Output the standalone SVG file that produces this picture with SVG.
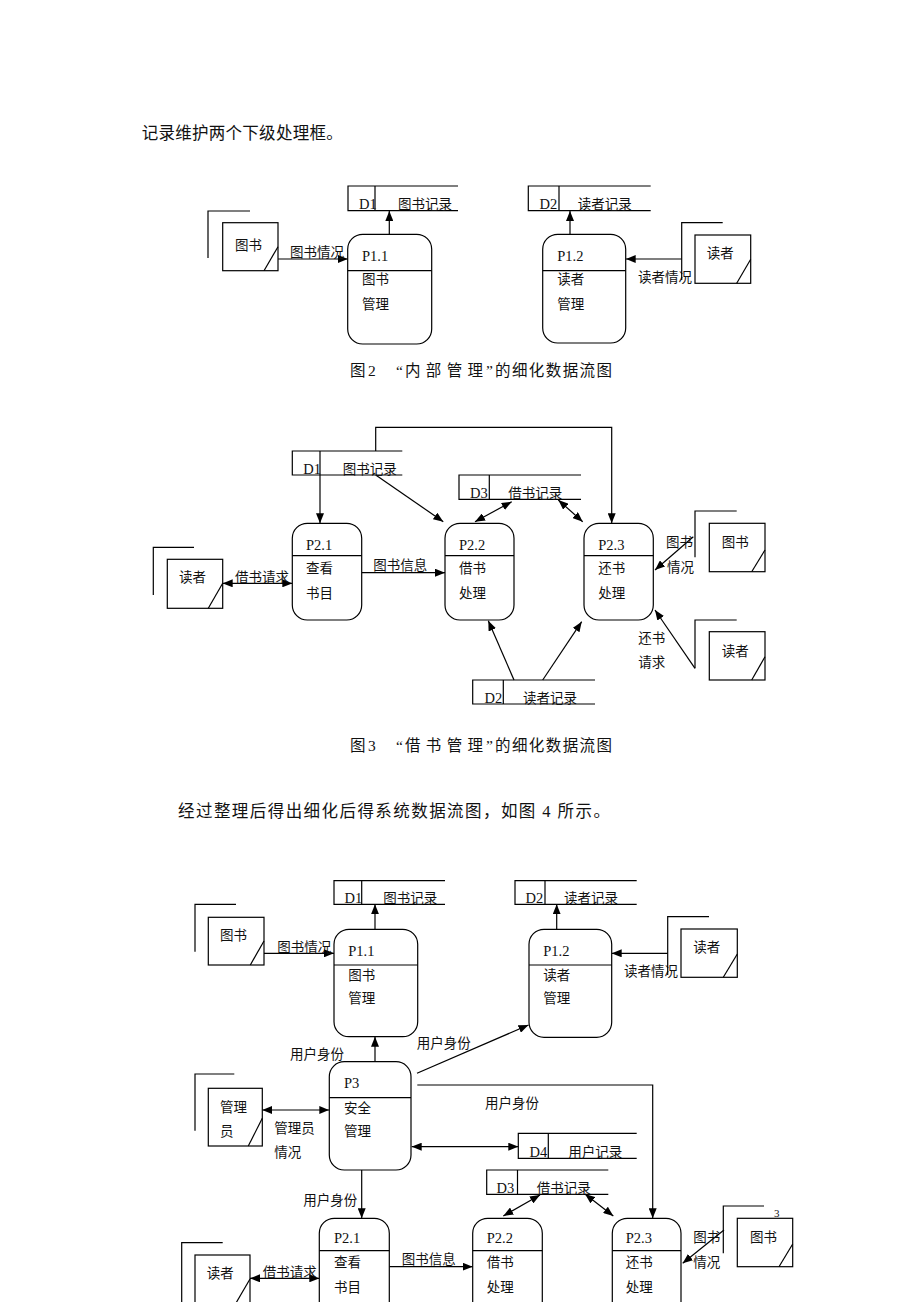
<svg xmlns="http://www.w3.org/2000/svg" width="920" height="1302" viewBox="0 0 920 1302">
<defs>
<marker id="arr" viewBox="0 0 10 8" markerWidth="10" markerHeight="8" refX="10" refY="4" orient="auto-start-reverse" markerUnits="userSpaceOnUse"><path d="M0,0 L10,4 L0,8 z" fill="#000"/></marker>
<style>
.ln{stroke:#000;stroke-width:1.2;fill:none}
.bx{stroke:#000;stroke-width:1.2;fill:#fff}
.fl{stroke:#000;stroke-width:1.2;fill:none;marker-end:url(#arr)}
.fl2{stroke:#000;stroke-width:1.2;fill:none;marker-end:url(#arr);marker-start:url(#arr)}
text{font-family:"Liberation Serif","Noto Sans CJK SC",serif;font-size:13.5px;fill:#111}
.l{font-size:14.5px}
.big{font-size:16.5px}
.cap{font-size:15.5px}
</style>
</defs>
<rect width="920" height="1302" fill="#fff"/>

<text class="big" x="141.7" y="139" textLength="201">记录维护两个下级处理框。</text>

<!-- ============ Figure 2 ============ -->
<g id="f2-connectors">
<line class="fl" x1="278" y1="259" x2="347.7" y2="259"/>
<line class="fl" x1="389.3" y1="234.3" x2="389.3" y2="211"/>
<line class="fl" x1="570" y1="234.3" x2="570" y2="211"/>
<line class="fl" x1="681.7" y1="259" x2="625.7" y2="259"/>
<text x="290" y="257">图书情况</text>
<text x="638" y="281.7">读者情况</text>
</g>
<g id="f2-ent-book">
<path class="ln" d="M250,211 H208 V258"/>
<rect class="bx" x="222.7" y="222.7" width="55.3" height="48"/>
<path class="ln" d="M264,270.7 L278,246.7"/>
<text x="235" y="250">图书</text>
</g>
<g id="f2-ent-reader">
<path class="ln" d="M722.7,222.7 H681.7 V280"/>
<rect class="bx" x="695" y="235" width="55.7" height="48.3"/>
<path class="ln" d="M736.7,283.3 L750.7,259.3"/>
<text x="706.7" y="258">读者</text>
</g>
<g id="f2-D1">
<path class="ln" d="M458,186 H348 V210.7 H458 M375,186 V210.7"/>
<text class="l" x="359" y="209">D1</text><text x="398" y="209">图书记录</text>
</g>
<g id="f2-D2">
<path class="ln" d="M650.7,186 H528.3 V210.7 H650.7 M559,186 V210.7"/>
<text class="l" x="539.5" y="209">D2</text><text x="577.7" y="209">读者记录</text>
</g>
<g id="f2-P1.1">
<rect class="bx" x="347.7" y="234.3" width="84" height="109.7" rx="15"/>
<line class="ln" x1="347.7" y1="270.7" x2="431.7" y2="270.7"/>
<text class="l" x="362" y="261">P1.1</text><text x="362" y="284">图书</text><text x="362" y="309">管理</text>
</g>
<g id="f2-P1.2">
<rect class="bx" x="542.7" y="234.3" width="83" height="108.7" rx="15"/>
<line class="ln" x1="542.7" y1="270.7" x2="625.7" y2="270.7"/>
<text class="l" x="557.3" y="261">P1.2</text><text x="557.3" y="284">读者</text><text x="557.3" y="309">管理</text>
</g>
<g id="f2-caption">
<text class="cap" x="350" y="376">图</text>
<text class="cap" x="368" y="376">2</text>
<text class="cap" x="396" y="376">“</text>
<text class="cap" x="405" y="376" textLength="78">内部管理</text>
<text class="cap" x="486" y="376">”</text>
<text class="cap" x="495" y="376" textLength="117">的细化数据流图</text>
</g>

<!-- ============ Figure 3 ============ -->
<g id="f3-connectors">
<polyline class="fl" points="375.7,451 375.7,427.3 611.7,427.3 611.7,523.3"/>
<line class="fl" x1="320" y1="451" x2="320" y2="523.3"/>
<line class="fl" x1="375.7" y1="475" x2="443.3" y2="521.7"/>
<line class="fl2" x1="511.7" y1="501.7" x2="475" y2="521.7"/>
<line class="fl2" x1="558.3" y1="500" x2="582.7" y2="521.7"/>
<line class="fl2" x1="222.7" y1="583.3" x2="292.3" y2="583.3"/>
<line class="fl" x1="361.7" y1="572.7" x2="445" y2="572.7"/>
<line class="fl" x1="693.3" y1="536.7" x2="655" y2="570"/>
<line class="fl" x1="695" y1="668.3" x2="655" y2="610"/>
<line class="fl" x1="514" y1="680" x2="488.3" y2="620.7"/>
<line class="fl" x1="542.7" y1="680" x2="581.7" y2="621.7"/>
<text x="235" y="581.7">借书请求</text>
<text x="373.3" y="570">图书信息</text>
<text x="666" y="546.7">图书</text><text x="667" y="571.7">情况</text>
<text x="638.3" y="643.3">还书</text><text x="638.3" y="666.7">请求</text>
</g>
<g id="f3-D1">
<path class="ln" d="M402.3,451 H292.3 V475 H402.3"/>
<text class="l" x="303.3" y="473.5">D1</text><text x="342.7" y="473.5">图书记录</text>
</g>
<g id="f3-D3">
<path class="ln" d="M581,475 H459 V499.3 H581 M489.3,475 V499.3"/>
<text class="l" x="470" y="498">D3</text><text x="508.3" y="498">借书记录</text>
</g>
<g id="f3-D2">
<path class="ln" d="M595,680 H472.7 V704 H595 M503.3,680 V704"/>
<text class="l" x="484.5" y="702.5">D2</text><text x="523" y="702.5">读者记录</text>
</g>
<g id="f3-ent-reader-l">
<path class="ln" d="M194,547.3 H153.3 V595"/>
<rect class="bx" x="167.3" y="559.3" width="55.4" height="49"/>
<path class="ln" d="M208.3,608.3 L222.7,583.3"/>
<text x="179" y="582">读者</text>
</g>
<g id="f3-ent-book-r">
<path class="ln" d="M736.7,511 H695 V557.3"/>
<rect class="bx" x="709.3" y="523.3" width="55.7" height="48.4"/>
<path class="ln" d="M751.7,571.7 L765,550"/>
<text x="721.7" y="546.7">图书</text>
</g>
<g id="f3-ent-reader-r">
<path class="ln" d="M736.7,620 H695 V668.3"/>
<rect class="bx" x="709.3" y="631.7" width="55.7" height="48.3"/>
<path class="ln" d="M751.7,680 L765,656.7"/>
<text x="721.7" y="655.7">读者</text>
</g>
<g id="f3-P2.1">
<rect class="bx" x="292.3" y="523.3" width="69.4" height="96.7" rx="15"/>
<line class="ln" x1="292.3" y1="555.7" x2="361.7" y2="555.7"/>
<text class="l" x="306" y="549.5">P2.1</text><text x="306" y="573">查看</text><text x="306" y="597.7">书目</text>
</g>
<g id="f3-P2.2">
<rect class="bx" x="445" y="523.3" width="69" height="96.7" rx="15"/>
<line class="ln" x1="445" y1="555.7" x2="514" y2="555.7"/>
<text class="l" x="459" y="549.5">P2.2</text><text x="459" y="573">借书</text><text x="459" y="597.7">处理</text>
</g>
<g id="f3-P2.3">
<rect class="bx" x="584" y="523.3" width="69.3" height="96.7" rx="15"/>
<line class="ln" x1="584" y1="555.7" x2="653.3" y2="555.7"/>
<text class="l" x="598.3" y="549.5">P2.3</text><text x="598.3" y="573">还书</text><text x="598.3" y="597.7">处理</text>
</g>
<g id="f3-caption">
<text class="cap" x="350" y="751">图</text>
<text class="cap" x="368" y="751">3</text>
<text class="cap" x="396" y="751">“</text>
<text class="cap" x="405" y="751" textLength="78">借书管理</text>
<text class="cap" x="486" y="751">”</text>
<text class="cap" x="495" y="751" textLength="117">的细化数据流图</text>
</g>

<text class="big" x="178" y="817" textLength="432">经过整理后得出细化后得系统数据流图，如图 4 所示。</text>

<!-- ============ Figure 4 ============ -->
<g id="f4-connectors">
<line class="fl" x1="264" y1="953.3" x2="334" y2="953.3"/>
<line class="fl" x1="375" y1="929.3" x2="375" y2="904.3"/>
<line class="fl" x1="556.7" y1="929.3" x2="556.7" y2="904.3"/>
<line class="fl" x1="667.7" y1="953.3" x2="611.7" y2="953.3"/>
<line class="fl" x1="375" y1="1061.7" x2="375" y2="1036.7"/>
<line class="fl" x1="417" y1="1073.3" x2="528.5" y2="1025"/>
<polyline class="fl" points="417.3,1085 652.7,1085 652.7,1218.3"/>
<line class="fl2" x1="262.3" y1="1110" x2="329.3" y2="1110"/>
<line class="fl2" x1="411.7" y1="1146.7" x2="518.3" y2="1146.7"/>
<line class="fl" x1="361.7" y1="1170" x2="361.7" y2="1218.3"/>
<line class="fl2" x1="540" y1="1195" x2="503.3" y2="1216"/>
<line class="fl2" x1="585" y1="1194" x2="613.3" y2="1216"/>
<line class="fl2" x1="250" y1="1278.3" x2="319.3" y2="1278.3"/>
<line class="fl" x1="389.3" y1="1266.7" x2="472.7" y2="1266.7"/>
<line class="fl" x1="724" y1="1230" x2="682.7" y2="1263.3"/>
<text x="277.3" y="951.7">图书情况</text>
<text x="624" y="975.7">读者情况</text>
<text x="290" y="1059">用户身份</text>
<text x="416.7" y="1048">用户身份</text>
<text x="485" y="1108">用户身份</text>
<text x="303.3" y="1205">用户身份</text>
<text x="274.3" y="1133">管理员</text><text x="274.3" y="1157">情况</text>
<text x="262.7" y="1276.7">借书请求</text>
<text x="401.7" y="1264.3">图书信息</text>
<text x="693.3" y="1242.3">图书</text><text x="693.3" y="1266.7">情况</text>
</g>
<g id="f4-D1">
<path class="ln" d="M445,880.7 H334 V904.3 H445 M361.7,880.7 V904.3"/>
<text class="l" x="344.5" y="903">D1</text><text x="383.3" y="903">图书记录</text>
</g>
<g id="f4-D2">
<path class="ln" d="M636.7,880.7 H515 V904.3 H636.7 M545,880.7 V904.3"/>
<text class="l" x="525.5" y="903">D2</text><text x="564" y="903">读者记录</text>
</g>
<g id="f4-D4">
<path class="ln" d="M636.7,1133.3 H518.3 V1158.3 H636.7 M548.3,1133.3 V1158.3"/>
<text class="l" x="529.5" y="1157">D4</text><text x="568.3" y="1157">用户记录</text>
</g>
<g id="f4-D3">
<path class="ln" d="M608.3,1170 H486.7 V1194.3 H608.3 M517.5,1170 V1194.3"/>
<text class="l" x="496.5" y="1193">D3</text><text x="536.7" y="1193">借书记录</text>
</g>
<g id="f4-ent-book">
<path class="ln" d="M236,904.3 H195 V951.7"/>
<rect class="bx" x="208.3" y="917.3" width="55.7" height="47.7"/>
<path class="ln" d="M250.3,965 L264,941"/>
<text x="220" y="940">图书</text>
</g>
<g id="f4-ent-reader">
<path class="ln" d="M709,916.7 H667.7 V975"/>
<rect class="bx" x="681" y="929" width="56.3" height="48.3"/>
<path class="ln" d="M723.3,977.3 L737.3,954"/>
<text x="693.3" y="952">读者</text>
</g>
<g id="f4-ent-admin">
<path class="ln" d="M234.3,1074 H195 V1130.7"/>
<rect class="bx" x="208.3" y="1088.3" width="54" height="57.7"/>
<path class="ln" d="M248.3,1146 L262.3,1118.3"/>
<text x="220" y="1112">管理</text><text x="220" y="1136">员</text>
</g>
<g id="f4-ent-reader-b">
<path class="ln" d="M222.7,1242.7 H181.7 V1310"/>
<rect class="bx" x="195" y="1255" width="55" height="48"/>
<path class="ln" d="M236,1303 L250,1279"/>
<text x="206.7" y="1277.7">读者</text>
</g>
<text x="774" y="1217" style="font-size:11px">3</text>
<g id="f4-ent-book-r">
<path class="ln" d="M764,1206 H723.3 V1253.3"/>
<rect class="bx" x="737.3" y="1218.3" width="55.4" height="48.4"/>
<path class="ln" d="M779,1266.7 L792.7,1244"/>
<text x="750" y="1242">图书</text>
</g>
<g id="f4-P1.1">
<rect class="bx" x="334" y="929.3" width="83.7" height="107.4" rx="15"/>
<line class="ln" x1="334" y1="965" x2="417.7" y2="965"/>
<text class="l" x="348.3" y="955.5">P1.1</text><text x="348.3" y="980">图书</text><text x="348.3" y="1003.3">管理</text>
</g>
<g id="f4-P1.2">
<rect class="bx" x="529" y="929.3" width="82.7" height="108" rx="15"/>
<line class="ln" x1="529" y1="965" x2="611.7" y2="965"/>
<text class="l" x="543.3" y="955.5">P1.2</text><text x="543.3" y="980">读者</text><text x="543.3" y="1003.3">管理</text>
</g>
<g id="f4-P3">
<rect class="bx" x="329.3" y="1061.7" width="81.7" height="108.3" rx="15"/>
<line class="ln" x1="329.3" y1="1097.7" x2="411" y2="1097.7"/>
<text class="l" x="344" y="1088">P3</text><text x="344" y="1112.7">安全</text><text x="344" y="1135.7">管理</text>
</g>
<g id="f4-P2.1">
<rect class="bx" x="319.3" y="1218.3" width="70" height="110" rx="15"/>
<line class="ln" x1="319.3" y1="1250.7" x2="389.3" y2="1250.7"/>
<text class="l" x="334" y="1242.8">P2.1</text><text x="334" y="1266.7">查看</text><text x="334" y="1291.7">书目</text>
</g>
<g id="f4-P2.2">
<rect class="bx" x="472.7" y="1218.3" width="69.6" height="110" rx="15"/>
<line class="ln" x1="472.7" y1="1250.7" x2="542.3" y2="1250.7"/>
<text class="l" x="486.7" y="1242.8">P2.2</text><text x="486.7" y="1266.7">借书</text><text x="486.7" y="1291.7">处理</text>
</g>
<g id="f4-P2.3">
<rect class="bx" x="612.3" y="1218.3" width="68.7" height="110" rx="15"/>
<line class="ln" x1="612.3" y1="1250.7" x2="681" y2="1250.7"/>
<text class="l" x="625.7" y="1242.8">P2.3</text><text x="625.7" y="1266.7">还书</text><text x="625.7" y="1291.7">处理</text>
</g>
</svg>
